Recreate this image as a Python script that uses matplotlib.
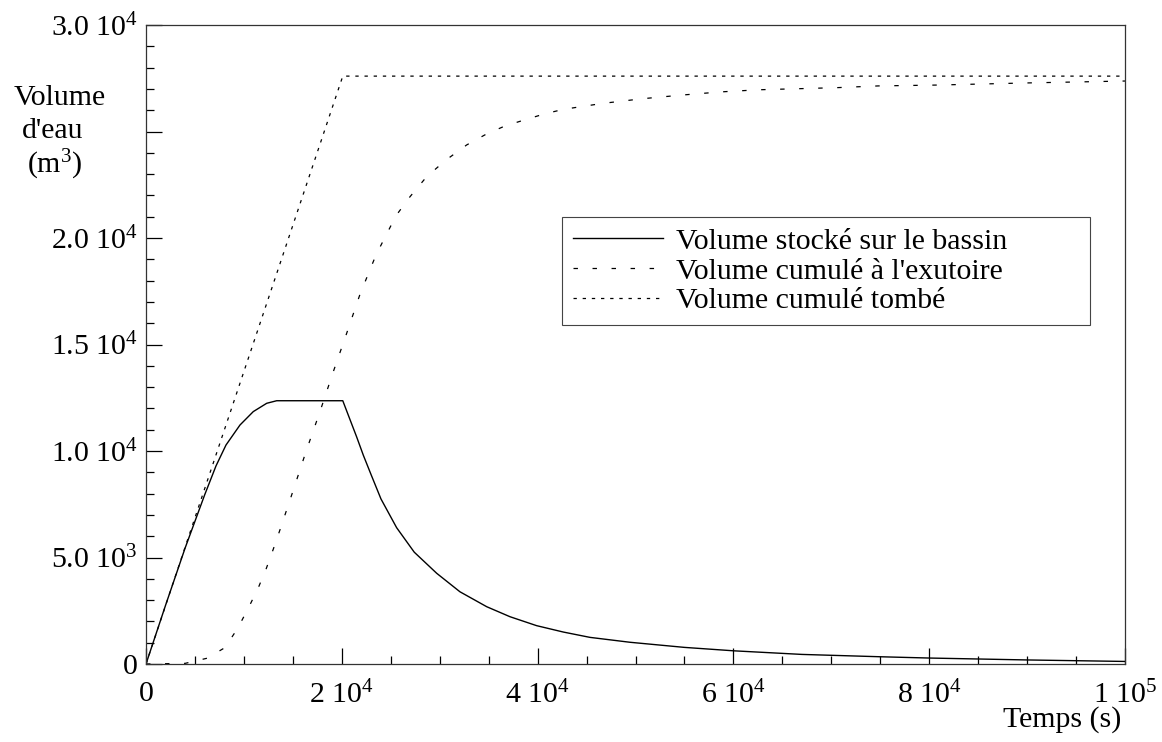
import matplotlib
matplotlib.use("Agg")
import matplotlib.pyplot as plt
from matplotlib.ticker import FixedLocator, MultipleLocator

plt.rcParams["font.family"] = ["Liberation Serif", "DejaVu Serif"]
plt.rcParams["mathtext.fontset"] = "custom"
plt.rcParams["mathtext.rm"] = "Liberation Serif"
plt.rcParams["mathtext.it"] = "Liberation Serif:italic"
plt.rcParams["lines.scale_dashes"] = False

FS = 21.5

# volume tombé (pluie cumulée), m3
t_pluie = [0, 20100, 100000]
v_pluie = [0, 27600, 27600]

# volume stocké sur le bassin, m3
t_stock = [0, 2000, 4000, 6000, 7150, 8170, 9600, 10960, 12330, 13350, 20100,
           21000, 21510, 22200, 23000, 24000, 25600, 27400, 29690, 32070, 34800,
           37180, 39900, 42630, 45350, 49440, 55000, 60000, 67000, 75000, 80000,
           90000, 100000]
v_stock = [0, 2760, 5450, 7950, 9300, 10280, 11220, 11850, 12240, 12360, 12360,
           11280, 10670, 9800, 8880, 7750, 6400, 5250, 4260, 3390, 2690,
           2220, 1800, 1500, 1250, 1020, 780, 620, 450, 340, 280,
           190, 120]

# volume cumulé à l'exutoire, m3
t_exut = [0, 4000, 6230, 8070, 9370, 10450, 11470, 12260, 13000, 13700, 15050,
          16340, 17770, 19130, 20500, 21860, 23490, 25540, 26970, 28670, 30640,
          32760, 34730, 36670, 38640, 40650, 42630, 46650, 50730, 54720, 58730,
          62640, 66730, 70650, 74800, 80760, 90000, 100000]
v_exut = [0, 30, 270, 770, 1680, 2620, 3580, 4450, 5390, 6320, 8170,
          9970, 11850, 13720, 15530, 17360, 19200, 21050, 21940, 22880, 23660,
          24370, 24870, 25260, 25540, 25820, 26040, 26320, 26540, 26710, 26860,
          26960, 27010, 27060, 27140, 27180, 27280, 27370]

x_ticks = [0, 20000, 40000, 60000, 80000, 100000]
x_labels = ["0", r"2 $\mathregular{10^4}$", r"4 $\mathregular{10^4}$",
            r"6 $\mathregular{10^4}$", r"8 $\mathregular{10^4}$", r"1 $\mathregular{10^5}$"]
y_ticks = [0, 5000, 10000, 15000, 20000, 25000, 30000]
y_labels = ["0", r"5.0 $\mathregular{10^3}$", r"1.0 $\mathregular{10^4}$",
            r"1.5 $\mathregular{10^4}$", r"2.0 $\mathregular{10^4}$", "",
            r"3.0 $\mathregular{10^4}$"]

W, H = 1162, 742
fig = plt.figure(figsize=(W / 100, H / 100), dpi=100)
ax = fig.add_axes([146 / W, 1 - 664 / H, (1125 - 146) / W, (664 - 25) / H])

ax.plot(t_stock, v_stock, color="black", lw=1.0, label="Volume stocké sur le bassin")
ax.plot(t_exut, v_exut, color="black", lw=0.9, dashes=(3.2, 10.5),
        label="Volume cumulé à l'exutoire")
ax.plot(t_pluie, v_pluie, color="black", lw=0.9, dashes=(2.4, 4.2),
        label="Volume cumulé tombé")

ax.set_xlim(0, 100000)
ax.set_ylim(0, 30000)
ax.xaxis.set_major_locator(FixedLocator(x_ticks))
ax.xaxis.set_minor_locator(MultipleLocator(5000))
ax.yaxis.set_major_locator(FixedLocator(y_ticks))
ax.yaxis.set_minor_locator(MultipleLocator(1000))
ax.set_xticklabels(x_labels)
ax.set_yticklabels(y_labels)
ax.tick_params(which="both", direction="in", labelsize=FS, width=0.9, color="black")
ax.tick_params(which="major", length=11.5)
ax.tick_params(which="minor", length=5.8)
ax.tick_params(axis="x", which="major", pad=12)
ax.tick_params(axis="y", which="major", pad=6)
for sp in ax.spines.values():
    sp.set_linewidth(0.9)
    sp.set_color("#333333")

leg = ax.legend(loc="upper left", bbox_to_anchor=(0.425, 0.526, 0.539, 0.174),
                mode="expand", fontsize=FS, frameon=True, fancybox=False,
                framealpha=1, edgecolor="#444444", borderaxespad=0,
                handlelength=3.0, handletextpad=0.42, labelspacing=0.09,
                borderpad=0.38)
leg.get_frame().set_linewidth(0.8)

# titre de l'axe vertical, en trois lignes
fig.text(60 / W, 1 - 98 / H, "Volume", fontsize=FS, ha="center", va="center")
fig.text(53 / W, 1 - 131 / H, "d'eau", fontsize=FS, ha="center", va="center")
fig.text(55 / W, 1 - 165 / H, r"($\mathregular{m^3}$)", fontsize=FS, ha="center", va="center")
fig.text(1062 / W, 1 - 720 / H, "Temps (s)", fontsize=FS, ha="center", va="center")

fig.savefig("out.png", dpi=100)
